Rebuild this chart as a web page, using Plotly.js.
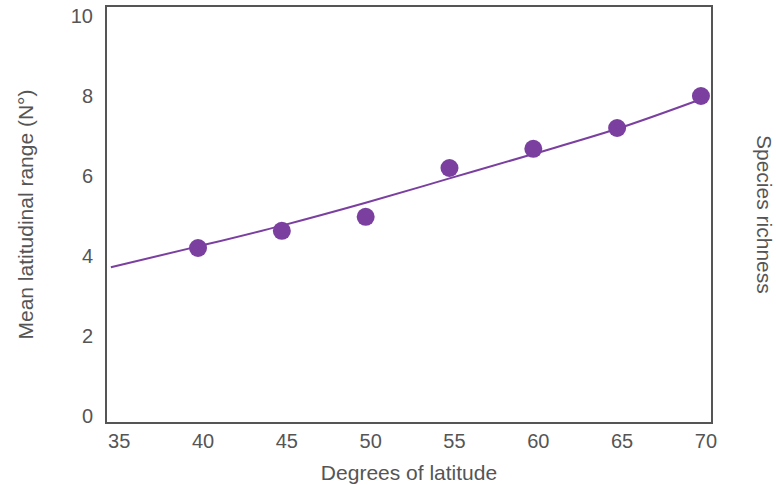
<!DOCTYPE html>
<html>
<head>
<meta charset="utf-8">
<script src="https://cdn.plot.ly/plotly-3.0.1.min.js"></script>
<style>html,body{margin:0;padding:0;background:#fff;}#chart{width:776px;height:485px;}</style>
</head>
<body>
<div id="chart"></div>
<script>
// Observed points
var latitude = [40, 45, 50, 55, 60, 65, 70];
var meanRange = [4.2, 4.63, 4.98, 6.2, 6.68, 7.2, 8.0];
// Fitted curve
var fitLatitude = [34.8, 40, 45, 50, 55, 60, 65, 70];
var fitRange = [3.72, 4.24, 4.76, 5.33, 5.94, 6.55, 7.18, 7.92];
var xTicks = [35, 40, 45, 50, 55, 60, 65, 70];
var yTicks = [0, 2, 4, 6, 8, 10];

var purple = '#7b3fa0';
var textColor = '#555555';
var fontFam = 'Liberation Sans, Arial, sans-serif';

var traces = [
  {x: fitLatitude, y: fitRange, mode: 'lines', line: {color: purple, width: 2, shape: 'spline'}, hoverinfo: 'skip'},
  {x: latitude, y: meanRange, mode: 'markers', marker: {color: purple, size: 18}, cliponaxis: false}
];

var layout = {
  width: 776, height: 485,
  margin: {l: 107, r: 65, t: 7, b: 63},
  paper_bgcolor: '#fff', plot_bgcolor: '#fff',
  showlegend: false,
  font: {family: fontFam, color: textColor, size: 21},
  xaxis: {
    range: [34.57, 70.6], tickvals: xTicks, ticktext: xTicks.map(String),
    showgrid: false, zeroline: false, ticks: '', showline: true, mirror: true,
    linecolor: '#555', linewidth: 2, tickfont: {size: 20, color: textColor},
    ticklabelshift: 5,
    title: {text: 'Degrees of latitude', font: {size: 21, color: textColor}, standoff: 14}
  },
  yaxis: {
    range: [-0.15, 10.225], tickvals: yTicks, ticktext: yTicks.map(String),
    showgrid: false, zeroline: false, ticks: '', showline: true, mirror: true,
    linecolor: '#555', linewidth: 2, tickfont: {size: 20, color: textColor},
    ticklabelstandoff: 8,
    title: {text: 'Mean latitudinal range (N°)', font: {size: 21, color: textColor}, standoff: 31}
  },
  annotations: [
    {text: 'Species richness', xref: 'paper', yref: 'paper', x: 1, xshift: 67, y: 0.5, yshift: 0,
     textangle: 90, showarrow: false, font: {size: 21, color: textColor}}
  ]
};

Plotly.newPlot('chart', traces, layout, {displayModeBar: false, staticPlot: true});
</script>
</body>
</html>
